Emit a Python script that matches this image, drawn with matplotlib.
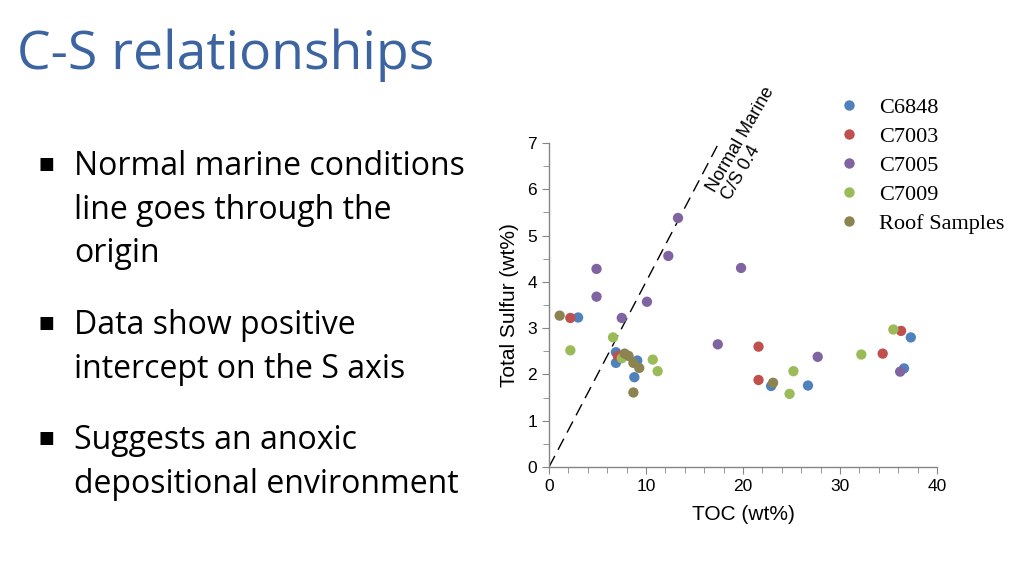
import numpy as np
import matplotlib
matplotlib.use('Agg')
import matplotlib.pyplot as plt
from matplotlib.ticker import MultipleLocator
from matplotlib.lines import Line2D

# --- Data (TOC wt%, total sulfur wt%)
c6848_toc = [3.0, 6.9, 6.9, 9.1, 8.8, 22.9, 26.7, 37.3, 36.6]
c6848_s   = [3.23, 2.48, 2.25, 2.30, 1.94, 1.75, 1.76, 2.80, 2.13]

c7003_toc = [2.2, 7.1, 21.6, 21.6, 34.4, 36.3]
c7003_s   = [3.22, 2.40, 2.60, 1.88, 2.45, 2.94]

c7005_toc = [13.3, 12.3, 4.9, 19.8, 4.9, 10.1, 7.5, 17.4, 27.7, 36.2]
c7005_s   = [5.38, 4.56, 4.28, 4.30, 3.68, 3.57, 3.22, 2.65, 2.38, 2.06]

c7009_toc = [6.6, 2.2, 7.5, 10.7, 11.2, 25.2, 24.8, 32.2, 35.5]
c7009_s   = [2.80, 2.52, 2.35, 2.32, 2.07, 2.07, 1.58, 2.43, 2.97]

roof_toc = [1.1, 7.8, 8.2, 8.7, 9.3, 8.7, 23.1]
roof_s   = [3.27, 2.45, 2.40, 2.25, 2.14, 1.61, 1.82]

series = [
    ('C6848', c6848_toc, c6848_s, '#4F81BD'),
    ('C7003', c7003_toc, c7003_s, '#C0504D'),
    ('C7005', c7005_toc, c7005_s, '#8064A2'),
    ('C7009', c7009_toc, c7009_s, '#9BBB59'),
    ('Roof Samples', roof_toc, roof_s, '#8C8450'),
]

# normal marine line, C/S 0.4 -> S = 0.4 * TOC
marine_toc = [0, 17.5]
marine_ratio = 0.4

bullets = [
    ['Normal marine conditions', 'line goes through the', 'origin'],
    ['Data show positive', 'intercept on the S axis'],
    ['Suggests an anoxic', 'depositional environment'],
]

fig = plt.figure(figsize=(10.24, 5.76), dpi=100)
fig.patch.set_facecolor('white')

# --- Slide title and bullet text
fig.text(17/1024, 1 - 69/576, 'C-S relationships', fontsize=38.5, color='#3B64A0',
         family='Open Sans', va='baseline', ha='left')

bullet_y = [[175, 219, 262], [334, 378], [449, 493]]
for lines, ys in zip(bullets, bullet_y):
    fig.text(46/1024, 1 - (ys[0] - 11)/576, '\u25A0', fontsize=12, color='black',
             family='DejaVu Sans', va='center', ha='center')
    for txt, y in zip(lines, ys):
        fig.text(74/1024, 1 - y/576, txt, fontsize=23, color='black',
                 family='Open Sans', va='baseline', ha='left')

# --- Scatter plot
ax = fig.add_axes([549/1024, 1 - 467/576, (937 - 549)/1024, (467 - 143)/576])
for name, x, y, c in series:
    ax.scatter(x, y, s=55, color=c, edgecolors='none', label=name, zorder=3, clip_on=False)

mx = np.array(marine_toc)
ax.plot(mx, marine_ratio * mx, color='black', lw=1, ls=(0, (9, 5)), zorder=2)
ax.text(19.0, 5.7, 'Normal Marine\nC/S 0.4', rotation=60, fontsize=13,
        family='Liberation Sans', ha='left', va='bottom', linespacing=1.0,
        rotation_mode='anchor')

ax.set_xlim(0, 40)
ax.set_ylim(0, 7)
ax.xaxis.set_major_locator(MultipleLocator(10))
ax.xaxis.set_minor_locator(MultipleLocator(2))
ax.yaxis.set_major_locator(MultipleLocator(1))
ax.yaxis.set_minor_locator(MultipleLocator(0.5))
for s in ['top', 'right']:
    ax.spines[s].set_visible(False)
for s in ['left', 'bottom']:
    ax.spines[s].set_color('#868686')
    ax.spines[s].set_linewidth(1)
ax.tick_params(which='both', direction='out', color='#868686', labelsize=12.5)
ax.tick_params(which='major', length=5)
ax.tick_params(which='minor', length=4)
for lab in ax.get_xticklabels() + ax.get_yticklabels():
    lab.set_family('Liberation Sans')

ax.set_xlabel('TOC (wt%)', fontsize=15, family='Liberation Sans', labelpad=8)
ax.set_ylabel('Total Sulfur (wt%)', fontsize=15, family='Liberation Sans', labelpad=6)

handles = [Line2D([], [], ls='none', marker='o', markersize=7.5, color=c,
                  markeredgecolor='none') for _, _, _, c in series]
fig.legend(handles, [n for n, _, _, _ in series], loc='upper left',
           bbox_to_anchor=(838/1024, 1 - 97/576), frameon=False,
           prop={'family': 'Liberation Serif', 'size': 16},
           handlelength=1.0, handletextpad=0.85, labelspacing=0.38,
           borderaxespad=0, borderpad=0)

plt.savefig('out.png', dpi=100, facecolor='white')
